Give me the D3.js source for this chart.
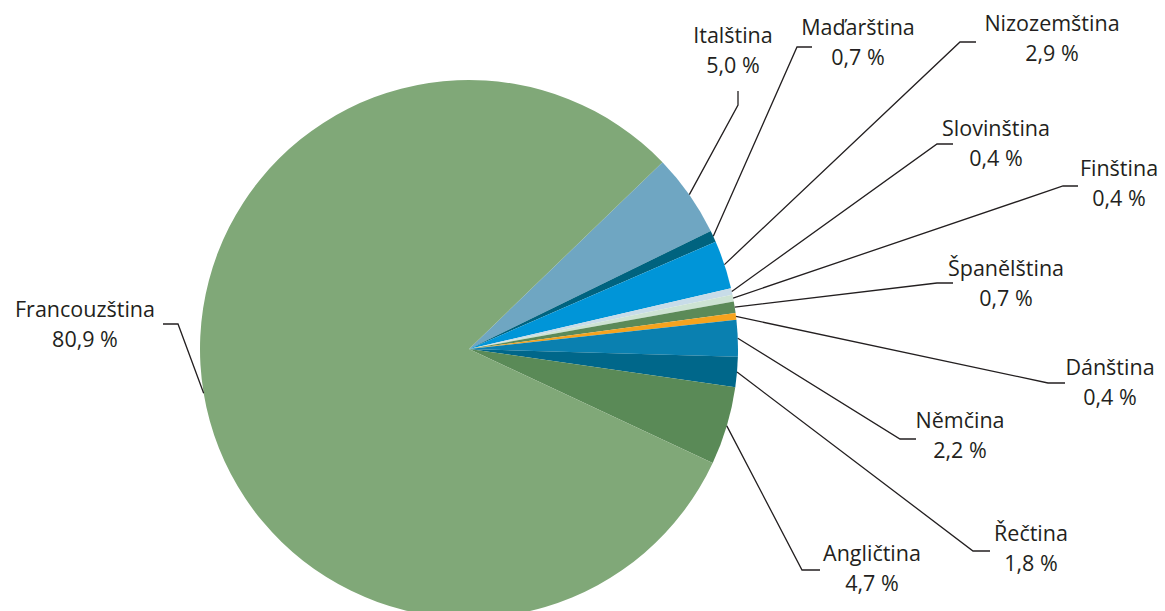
<!DOCTYPE html>
<html><head><meta charset="utf-8">
<script src="https://cdn.jsdelivr.net/npm/d3@7"></script>
<style>body{margin:0;background:#fff}svg{display:block}</style>
</head><body>
<svg id="c" width="1165" height="611"></svg>
<script>
const languages = ["Italština","Maďarština","Nizozemština","Slovinština","Finština","Španělština","Dánština","Němčina","Řečtina","Angličtina","Francouzština"];
const shares = [5.0,0.7,2.9,0.4,0.4,0.7,0.4,2.2,1.8,4.7,80.9];
const colors = ["#6fa6c2","#00637f","#0095d8","#c8dce8","#cde3d3","#5b8a58","#f5a31e","#0a80b0","#00678a","#5a8a57","#80a878"];
// label layout: [elbow x, elbow y, end x, end y, text center x, first baseline y]
const labelLayout = [
  [738,105,738,91,733,43],
  [797,47,812,47,858,35],
  [960,42,976,42,1052,31],
  [937,144,953,144,996,136],
  [1063,186,1078,186,1119,176],
  [937,283,953,283,1006,276],
  [1048,383,1065,383,1110,375],
  [900,439,916,439,960,428],
  [973,551,990,551,1031,541],
  [802,570,820,570,872,561],
  [178,324,163,324,85,317]
];
const cx=469, cy=349, R=269;
const svg=d3.select("#c");
const data=languages.map((l,i)=>({name:l,value:shares[i],color:colors[i],lay:labelLayout[i]}));
const startA=46*Math.PI/180;
const pie=d3.pie().value(d=>d.value).sort(null).startAngle(startA).endAngle(startA+2*Math.PI);
const arc=d3.arc().innerRadius(0).outerRadius(R);
const arcs=pie(data);
const g=svg.append("g").attr("transform",`translate(${cx},${cy})`);
g.selectAll("path").data(arcs).join("path").attr("d",arc).attr("fill",d=>d.data.color);
const fmt=v=>d3.format(".1f")(v).replace(".",",")+" %";
arcs.forEach(a=>{
  const m=(a.startAngle+a.endAngle)/2;
  const px=cx+R*Math.sin(m), py=cy-R*Math.cos(m);
  const L=a.data.lay;
  svg.append("polyline").attr("points",`${px},${py} ${L[0]},${L[1]} ${L[2]},${L[3]}`)
    .attr("fill","none").attr("stroke","#231f20").attr("stroke-width",1.3);
  const t=svg.append("text").attr("x",L[4]).attr("y",L[5]).attr("text-anchor","middle")
    .attr("font-family","Open Sans, sans-serif").attr("font-size",21.5).attr("fill","#231f20");
  t.append("tspan").attr("x",L[4]).attr("dy",0).text(a.data.name);
  t.append("tspan").attr("x",L[4]).attr("dy",30).text(fmt(a.data.value));
});
</script>
</body></html>
